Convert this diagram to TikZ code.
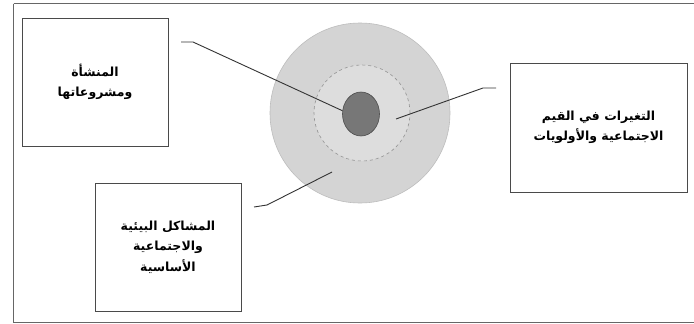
\documentclass[tikz,border=0pt]{standalone}
\usepackage{fontspec}
\usetikzlibrary{shapes.geometric}
\newfontfamily\arabicfont[Script=Arabic]{DejaVu Sans}
\TeXXeTstate=1
\definecolor{ringgray}{HTML}{D4D4D4}
\definecolor{ringedge}{HTML}{BDBDBD}
\definecolor{coregray}{HTML}{777777}
\definecolor{boxedge}{HTML}{4A4A4A}
\definecolor{lineedge}{HTML}{333333}
\tikzset{
  labelbox/.style={draw=boxedge, line width=0.9pt, fill=white, align=center,
    font=\arabicfont\bfseries\fontsize{12.5}{20.5}\selectfont, inner sep=0pt},
  link/.style={draw=lineedge, line width=0.9pt}
}
\begin{document}
\begin{tikzpicture}[x=1pt,y=-1pt]
\useasboundingbox (0,0) rectangle (694,324);
\fill[white] (0,0) rectangle (694,324);
\draw[draw=gray!80!black, line width=0.8pt] (13.5,3.5) -- (694,3.5) (13.5,3.5) -- (13.5,322) -- (694,322);
% target rings
\node[circle, fill=ringgray, draw=ringedge, line width=0.6pt, minimum size=180pt, inner sep=0pt] (outer) at (360,113) {};
\node[circle, fill=ringgray!80!white, draw=gray!85, dashed, line width=0.6pt, minimum size=96pt, inner sep=0pt] (mid) at (362,113) {};
\node[ellipse, fill=coregray, draw=gray!60!black, line width=0.6pt, minimum width=37pt, minimum height=44pt, inner sep=0pt] (core) at (361,114) {};
% boxes
\node[labelbox, minimum width=146pt, minimum height=128pt] (b1) at (95,82)
  {\beginR المنشأة\endR\\\beginR ومشروعاتها\endR};
\node[labelbox, minimum width=177pt, minimum height=129pt] (b2) at (598.5,127.5)
  {\beginR التغيرات في القيم\endR\\\beginR الاجتماعية والأولويات\endR};
\node[labelbox, minimum width=146pt, minimum height=128pt] (b3) at (168,247)
  {\beginR المشاكل البيئية\endR\\\beginR والاجتماعية\endR\\\beginR الأساسية\endR};
% connectors
\coordinate (s1) at (181,42);
\coordinate (k1) at (193,42);
\coordinate (s2) at (496,88);
\coordinate (k2) at (483,88);
\coordinate (e2) at (396,119);
\coordinate (s3) at (254,207);
\coordinate (k3) at (267,205);
\coordinate (e3) at (332,172);
\draw[link] (s1) -- (k1) -- (core.170);
\draw[link] (s2) -- (k2) -- (e2);
\draw[link] (s3) -- (k3) -- (e3);
\end{tikzpicture}
\end{document}
